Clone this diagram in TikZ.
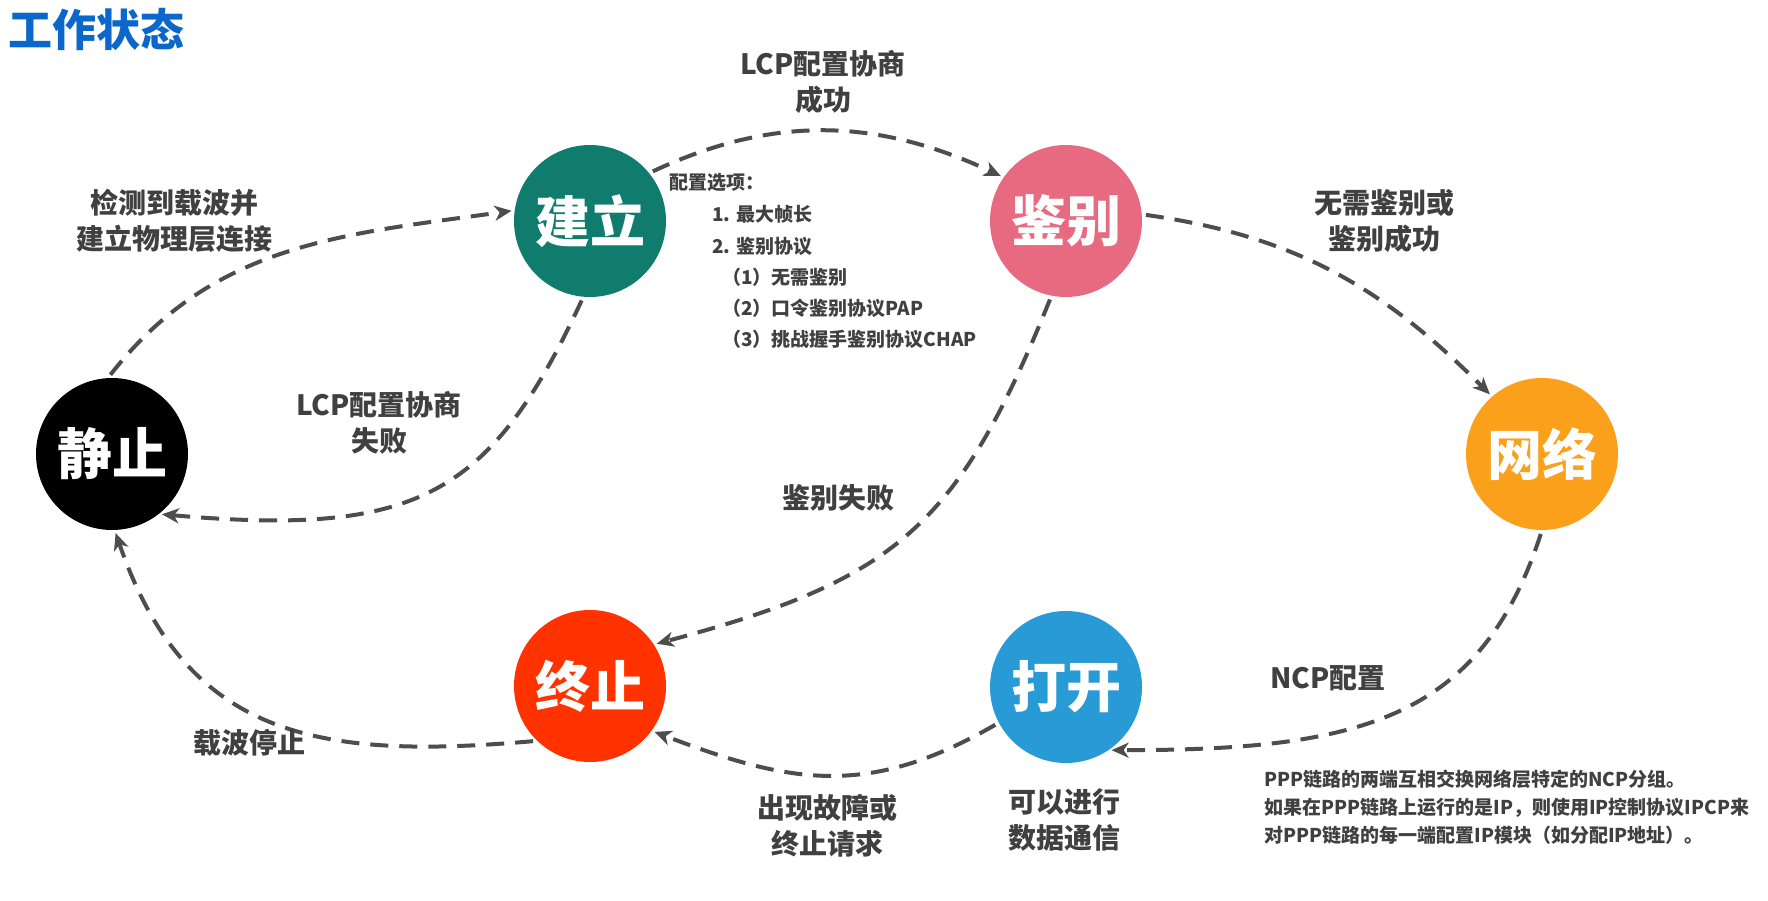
\documentclass[tikz,border=0pt]{standalone}
\usepackage{fontspec}
\setmainfont{Noto Sans CJK SC}
\usetikzlibrary{arrows.meta}
\definecolor{titleblue}{RGB}{11,103,201}
\definecolor{cjl}{RGB}{16,124,110}
\definecolor{cjb}{RGB}{232,106,128}
\definecolor{cwl}{RGB}{250,160,26}
\definecolor{czz}{RGB}{255,50,0}
\definecolor{cdk}{RGB}{40,155,215}
\definecolor{lblgray}{RGB}{64,64,64}
\definecolor{arrgray}{RGB}{77,77,77}
\begin{document}
\begin{tikzpicture}[x=1pt,y=1pt,
  state/.style={circle, minimum size=152pt, inner sep=0pt, text=white,
    font=\fontsize{55}{60}\selectfont\bfseries},
  lbl/.style={text=lblgray, font=\fontsize{28}{36}\selectfont\bfseries, align=center, inner sep=0pt},
  small/.style={text=lblgray, font=\fontsize{19}{28}\selectfont\bfseries, inner sep=0pt, anchor=west},
  flow/.style={draw=arrgray, line width=4pt, dash pattern=on 18pt off 11pt,
    -{Stealth[length=17pt,width=15pt,inset=5pt]}, shorten <=4pt, shorten >=3pt}]
\path[use as bounding box, fill=white] (0,0) rectangle (1768,-901);

\node[anchor=west, inner sep=0pt, text=titleblue, font=\fontsize{44}{50}\selectfont\bfseries] (title) at (8,-29) {工作状态};

\node[state, fill=black] (jz) at (112,-454) {静止};
\node[state, fill=cjl] (jl) at (590,-221) {建立};
\node[state, fill=cjb] (jb) at (1066,-221) {鉴别};
\node[state, fill=cwl] (wl) at (1542,-454) {网络};
\node[state, fill=czz] (zz) at (590,-686) {终止};
\node[state, fill=cdk] (dk) at (1066,-687) {打开};

\draw[flow] (jz.93) to[out=52,in=188] (jl.172);
\draw[flow] (jl.-95) to[out=-115,in=-5,out distance=220pt,in distance=260pt] (jz.-52);
\draw[flow] (jl.39) to[out=25,in=155] (jb.145);
\draw[flow] (jb.5) to[out=-8,in=135] (wl.131);
\draw[flow] (jb.-101) to[out=-112,in=15,out distance=250pt,in distance=250pt] (zz.33);
\draw[flow] (wl.-90) to[out=-108,in=0,out distance=200pt,in distance=250pt] (dk.-56);
\draw[flow] (dk.-152) to[out=-150,in=-21,out distance=150pt,in distance=150pt] (zz.-36);
\draw[flow] (zz.-134) to[out=-175,in=-71,out distance=220pt,in distance=220pt] (jz.-88);

\node[lbl] (l1) at (174,-221) {检测到载波并\\建立物理层连接};
\node[lbl] (l2) at (379,-423) {LCP配置协商\\失败};
\node[lbl] (l3) at (823,-82) {LCP配置协商\\成功};
\node[lbl] (l4) at (1384,-221) {无需鉴别或\\鉴别成功};
\node[lbl] (l5) at (838,-498) {鉴别失败};
\node[lbl] (l6) at (1328,-678) {NCP配置};
\node[lbl] (l7) at (249,-743) {载波停止};
\node[lbl] (l8) at (827,-826) {出现故障或\\终止请求};
\node[lbl] (l9) at (1064,-820) {可以进行\\数据通信};

\node[small] (c0) at (669,-182) {配置选项：};
\node[small] (c1) at (712,-214) {1. 最大帧长};
\node[small] (c2) at (712,-246) {2. 鉴别协议};
\node[small] (c3) at (722,-277) {（1）无需鉴别};
\node[small] (c4) at (722,-308) {（2）口令鉴别协议PAP};
\node[small] (c5) at (722,-339) {（3）挑战握手鉴别协议CHAP};

\node[small, align=left] (note) at (1264,-807) {PPP链路的两端互相交换网络层特定的NCP分组。\\如果在PPP链路上运行的是IP，则使用IP控制协议IPCP来\\对PPP链路的每一端配置IP模块（如分配IP地址）。};
\end{tikzpicture}
\end{document}
